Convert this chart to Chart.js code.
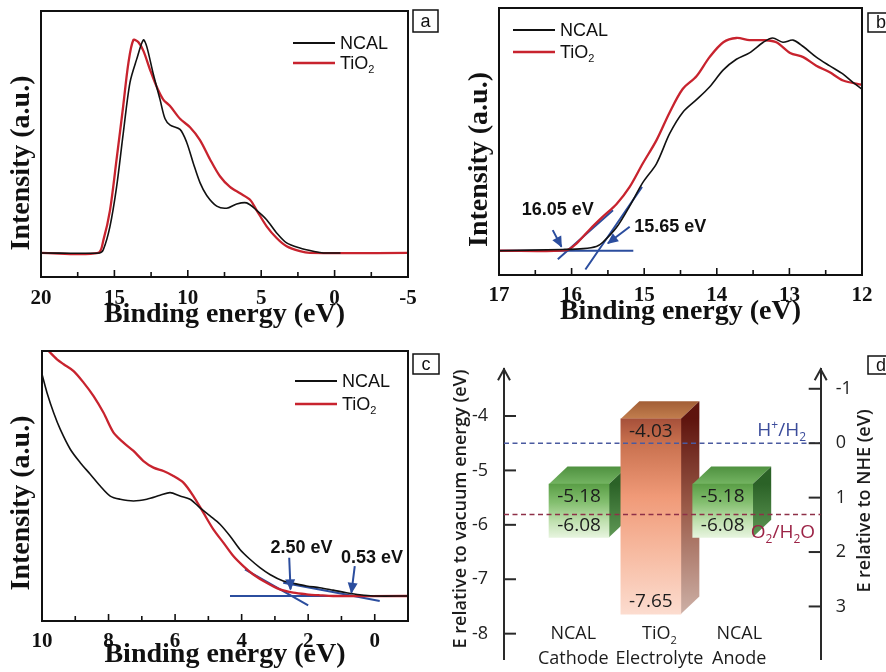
<!DOCTYPE html>
<html>
<head>
<meta charset="utf-8">
<title>UPS spectra and band alignment</title>
<script src="https://cdn.jsdelivr.net/npm/chart.js@4.4.1/dist/chart.umd.min.js"></script>
<style>
  body { margin: 0; background: #fff; }
  #fig { position: relative; width: 886px; height: 672px; overflow: hidden; background: #fff; }
  #fig canvas { position: absolute; }
</style>
</head>
<body>
<div id="fig">
  <canvas id="panelA" width="443" height="336" style="left:0;top:0"></canvas>
  <canvas id="panelB" width="443" height="336" style="left:443px;top:0"></canvas>
  <canvas id="panelC" width="443" height="336" style="left:0;top:336px"></canvas>
  <canvas id="panelD" width="443" height="336" style="left:443px;top:336px"></canvas>
</div>
<script>
// ---- (a) full UPS spectra: binding energy (eV) / normalised intensity ----
const eA_ncal = [20, 16.0, 15.75, 15.3, 14.85, 14.4, 13.94, 13.48, 13.03, 12.8, 12.35, 11.89, 11.55, 11.2, 10.53, 10.08, 9.62, 9.17, 8.71, 8.03, 7.35, 6.67, 5.99, 5.31, 4.63, 3.95, 3.27, 2.36, 1.45, 0.77, -0.4];
const iA_ncal = [0, 0, 0.016, 0.125, 0.31, 0.56, 0.80, 0.91, 1.0, 0.97, 0.84, 0.72, 0.63, 0.60, 0.58, 0.52, 0.42, 0.33, 0.27, 0.22, 0.21, 0.23, 0.235, 0.20, 0.156, 0.094, 0.047, 0.023, 0.008, 0, 0];
const eA_tio2 = [20, 16.1, 15.75, 15.3, 14.85, 14.4, 14.05, 13.71, 13.37, 13.03, 12.57, 12.12, 11.67, 11.21, 10.53, 9.85, 9.17, 8.49, 7.81, 7.13, 6.44, 5.76, 5.31, 4.63, 3.95, 3.27, 2.36, 1.68, -5];
const iA_tio2 = [0, 0, 0.06, 0.20, 0.44, 0.69, 0.89, 1.0, 0.99, 0.95, 0.86, 0.78, 0.72, 0.69, 0.63, 0.59, 0.53, 0.44, 0.36, 0.31, 0.28, 0.25, 0.20, 0.125, 0.07, 0.031, 0.008, 0, 0];
const ticksA = [20, 15, 10, 5, 0, -5];

// ---- (b) secondary electron cut-off ----
const eB_ncal = [17, 16.12, 15.84, 15.66, 15.57, 15.38, 15.2, 15.02, 14.83, 14.65, 14.47, 14.28, 14.1, 13.91, 13.73, 13.55, 13.36, 13.23, 13.09, 12.95, 12.81, 12.63, 12.45, 12.26, 12.12, 12.0];
const iB_ncal = [0, 0.006, 0.01, 0.02, 0.04, 0.11, 0.21, 0.32, 0.41, 0.55, 0.65, 0.71, 0.77, 0.85, 0.90, 0.93, 0.98, 1.0, 0.98, 0.99, 0.96, 0.91, 0.87, 0.83, 0.79, 0.76];
const eB_tio2 = [17, 16.07, 15.93, 15.75, 15.57, 15.38, 15.2, 15.02, 14.83, 14.65, 14.47, 14.28, 14.1, 13.91, 13.73, 13.55, 13.36, 13.18, 12.99, 12.81, 12.63, 12.45, 12.26, 12.0];
const iB_tio2 = [0, 0.003, 0.035, 0.10, 0.16, 0.22, 0.30, 0.41, 0.52, 0.65, 0.76, 0.82, 0.91, 0.98, 1.0, 0.99, 0.99, 0.98, 0.93, 0.91, 0.87, 0.84, 0.80, 0.78];
const ticksB = [17, 16, 15, 14, 13, 12];
const fitsB = [[[17, 0], [15.15, 0]], [[16.19, -0.04], [15.43, 0.19]], [[15.81, -0.088], [15.03, 0.30]]];
const arrowsB = [[[16.26, 0.097], [16.14, 0.019]], [[15.2, 0.113], [15.5, 0.035]]];
const notesB = ['16.05 eV', '15.65 eV'];

// ---- (c) valence band edge ----
const eC_ncal = [10, 9.85, 9.65, 9.45, 9.15, 8.85, 8.55, 8.25, 7.95, 7.65, 7.25, 6.85, 6.45, 6.15, 5.85, 5.55, 5.25, 4.95, 4.65, 4.35, 4.05, 3.75, 3.45, 3.15, 2.75, 2.45, 2.05, 1.65, 1.25, 0.85, 0.45, 0.05, -1];
const iC_ncal = [0.905, 0.83, 0.748, 0.68, 0.599, 0.544, 0.497, 0.449, 0.408, 0.395, 0.388, 0.395, 0.411, 0.422, 0.408, 0.395, 0.36, 0.327, 0.293, 0.245, 0.19, 0.15, 0.116, 0.088, 0.061, 0.052, 0.041, 0.034, 0.024, 0.0136, 0.005, 0, 0];
const eC_tio2 = [10, 9.75, 9.55, 9.35, 9.05, 8.75, 8.45, 8.15, 7.85, 7.55, 7.25, 6.95, 6.65, 6.35, 6.05, 5.75, 5.45, 5.15, 4.85, 4.55, 4.25, 3.95, 3.65, 3.25, 2.85, 2.45, 2.05, 1.65, 1.25, -1];
const iC_tio2 = [1.03, 0.993, 0.966, 0.946, 0.918, 0.871, 0.816, 0.748, 0.667, 0.626, 0.592, 0.551, 0.524, 0.51, 0.49, 0.463, 0.408, 0.34, 0.272, 0.218, 0.163, 0.122, 0.088, 0.054, 0.027, 0.0136, 0.007, 0.003, 0, 0];
const ticksC = [10, 8, 6, 4, 2, 0];
const fitsC = [[[4.35, 0], [-1, 0]], [[3.9, 0.109], [2.0, -0.038]], [[2.75, 0.054], [-0.15, -0.02]]];
const arrowsC = [[[2.57, 0.156], [2.53, 0.027]], [[0.6, 0.122], [0.7, 0.0136]]];
const notesC = ['2.50 eV', '0.53 eV'];

// ---- (d) band alignment (eV vs vacuum) ----
const bandNames = ['NCAL', 'TiO₂', 'NCAL'];
const bandRoles = ['Cathode', 'Electrolyte', 'Anode'];
const bandTop = [-5.25, -4.05, -5.25];
const bandBottom = [-6.23, -7.64, -6.23];
const bandTopText = ['-5.18', '-4.03', '-5.18'];
const bandBottomText = ['-6.08', '-7.65', '-6.08'];
const vacuumTicks = [-8, -7, -6, -5, -4];
const nheTicks = [-1, 0, 1, 2, 3];
const redoxLevels = [-4.5, -5.81];
const redoxNames = ['H⁺/H₂', 'O₂/H₂O'];

// layout / style constants
const SERIF = '"Liberation Serif", "Times New Roman", serif';
const SANS = '"Liberation Sans", Arial, sans-serif';
const OPEN = '"Open Sans", "Noto Sans", sans-serif';
const BLACK = '#111111';
const RED = '#c8232e';
const BLUE = '#2b4d9e';
const AXIS = '#2a2a2a';
const noteAtB = [[16.19, 0.19], [14.64, 0.113]];
const noteAtC = [[2.2, 0.197], [0.08, 0.156]];
const VAC_RANGE = [-8.471, -3.142];
const NHE_ZERO = -4.5;
const D_X = [-0.044, 4.364];
const catLabelAt = [0.92, 2.12, 3.23];
const redoxLabelAt = [[4.16, 0.225], [4.285, -0.34]];
const DEPTH = [18.5, -17.5];

Chart.defaults.animation = false;
Chart.defaults.events = [];
Chart.defaults.plugins.legend.display = false;
Chart.defaults.plugins.tooltip.enabled = false;

const pts = (xs, ys) => xs.map((x, i) => ({x, y: ys[i]}));
const seg = p => p.map(([x, y]) => ({x, y}));

// split text into normal / subscript / superscript runs
function richParts(text) {
  const parts = [];
  for (const ch of text) {
    let kind = 'n', c = ch;
    const sub = '₀₁₂₃₄₅₆₇₈₉'.indexOf(ch);
    if (sub >= 0) { kind = 'sub'; c = String(sub); }
    else if (ch === '⁺') { kind = 'sup'; c = '+'; }
    const last = parts[parts.length - 1];
    if (last && last.kind === kind) last.t += c; else parts.push({kind, t: c});
  }
  return parts;
}
function drawRich(ctx, text, x, y, size, weight, family, align) {
  const parts = richParts(text);
  const fontFor = k => `${weight} ${k === 'n' ? size : Math.round(size * 0.62)}px ${family}`;
  let w = 0;
  parts.forEach(p => { ctx.font = fontFor(p.kind); p.w = ctx.measureText(p.t).width; w += p.w; });
  let cx = align === 'center' ? x - w / 2 : align === 'right' ? x - w : x;
  ctx.textAlign = 'left';
  ctx.textBaseline = 'middle';
  parts.forEach(p => {
    ctx.font = fontFor(p.kind);
    const dy = p.kind === 'sub' ? size * 0.34 : p.kind === 'sup' ? -size * 0.3 : 0;
    ctx.fillText(p.t, cx, y + dy);
    cx += p.w;
  });
}
function drawTag(ctx, text, [x, y, w, h]) {
  ctx.save();
  ctx.strokeStyle = BLACK; ctx.lineWidth = 1.5;
  ctx.strokeRect(x, y, w, h);
  ctx.fillStyle = BLACK;
  ctx.font = `18px ${SANS}`; ctx.textAlign = 'center'; ctx.textBaseline = 'middle';
  ctx.fillText(text, x + w / 2, y + h / 2 + 1);
  ctx.restore();
}
function drawArrowHeads(chart) {
  const ctx = chart.ctx;
  chart.data.datasets.forEach((ds, i) => {
    if (!ds.arrowHead) return;
    const p = chart.getDatasetMeta(i).data;
    const a = p[p.length - 2], b = p[p.length - 1];
    const ang = Math.atan2(b.y - a.y, b.x - a.x);
    ctx.save();
    ctx.translate(b.x, b.y); ctx.rotate(ang);
    ctx.fillStyle = ds.borderColor;
    ctx.beginPath(); ctx.moveTo(1, 0); ctx.lineTo(-10, -5); ctx.lineTo(-10, 5); ctx.closePath(); ctx.fill();
    ctx.restore();
  });
}

// frame, inward ticks, legend, labels for the spectrum panels
const specFrame = {
  id: 'specFrame',
  afterDatasetsDraw(chart) { drawArrowHeads(chart); },
  afterDraw(chart, args, o) {
    const {ctx, chartArea: a, scales: {x, y}} = chart;
    ctx.save();
    ctx.strokeStyle = BLACK; ctx.lineWidth = 2;
    ctx.strokeRect(a.left, a.top, a.right - a.left, a.bottom - a.top);
    ctx.lineWidth = 1.6;
    const n0 = Math.ceil(x.min / o.minor - 1e-6), n1 = Math.floor(x.max / o.minor + 1e-6);
    for (let n = n0; n <= n1; n++) {
      const v = n * o.minor, px = x.getPixelForValue(v);
      const major = Math.abs(v / o.major - Math.round(v / o.major)) < 1e-6;
      ctx.beginPath(); ctx.moveTo(px, a.bottom); ctx.lineTo(px, a.bottom - (major ? 7 : 5)); ctx.stroke();
    }
    // y title
    ctx.save();
    ctx.translate(o.yTitleX, (a.top + a.bottom) / 2 + o.yTitleDy);
    ctx.rotate(-Math.PI / 2);
    ctx.fillStyle = BLACK;
    ctx.font = `bold 28px ${SERIF}`; ctx.textAlign = 'center'; ctx.textBaseline = 'middle';
    ctx.fillText('Intensity (a.u.)', 0, 0);
    ctx.restore();
    // legend
    const [lx, ly, lgap] = o.legend;
    chart.data.datasets.slice(0, 2).forEach((ds, i) => {
      const yy = ly + i * lgap;
      ctx.strokeStyle = ds.borderColor; ctx.lineWidth = ds.borderWidth + 0.4;
      ctx.beginPath(); ctx.moveTo(lx, yy); ctx.lineTo(lx + 42, yy); ctx.stroke();
      ctx.fillStyle = BLACK;
      drawRich(ctx, ds.label, lx + 47, yy + 1, 18, 'normal', SANS, 'left');
    });
    // onset annotations
    (o.notes || []).forEach((t, i) => {
      const [nx, ny] = o.noteAt[i];
      ctx.fillStyle = BLACK;
      ctx.font = `bold 18px ${SANS}`; ctx.textAlign = 'center'; ctx.textBaseline = 'middle';
      ctx.fillText(t, x.getPixelForValue(nx), y.getPixelForValue(ny));
    });
    drawTag(ctx, o.tag, o.tagBox);
    ctx.restore();
  }
};

function spectrumChart(id, o) {
  const datasets = [
    {label: 'NCAL', data: pts(o.ncal[0], o.ncal[1]), borderColor: BLACK, borderWidth: 1.6},
    {label: 'TiO₂', data: pts(o.tio2[0], o.tio2[1]), borderColor: RED, borderWidth: 2.3}
  ];
  (o.fits || []).forEach(f => datasets.push({data: seg(f), borderColor: BLUE, borderWidth: 2}));
  (o.arrows || []).forEach(f => datasets.push({data: seg(f), borderColor: BLUE, borderWidth: 2, arrowHead: true}));
  const [left, right, top, bottom] = o.area;
  return new Chart(document.getElementById(id), {
    type: 'line',
    data: {datasets},
    options: {
      responsive: false,
      layout: {autoPadding: false, padding: {left, right: 443 - right, top, bottom: 0}},
      elements: {point: {radius: 0}, line: {tension: 0.3, fill: false}},
      scales: {
        x: {
          type: 'linear', reverse: true, min: o.xRange[0], max: o.xRange[1],
          afterFit: s => { s.height = 336 - bottom; s.paddingLeft = s.paddingRight = 0; },
          afterBuildTicks: s => { s.ticks = o.ticks.map(v => ({value: v})); },
          grid: {display: false}, border: {display: false},
          ticks: {padding: o.tickPad, color: BLACK, maxRotation: 0, font: {family: SERIF, size: 21, weight: 'bold'}},
          title: {display: true, text: 'Binding energy (eV)', color: BLACK,
                  padding: {top: 0, bottom: o.titlePad}, font: {family: SERIF, size: 28, weight: 'bold'}}
        },
        y: {display: false, min: o.yRange[0], max: o.yRange[1]}
      },
      plugins: {
        specFrame: {
          major: o.major, minor: o.minor, yTitleX: o.yTitleX, yTitleDy: o.yTitleDy,
          legend: o.legend, notes: o.notes, noteAt: o.noteAt, tag: o.tag, tagBox: o.tagBox
        }
      }
    },
    plugins: [specFrame]
  });
}

spectrumChart('panelA', {
  ncal: [eA_ncal, iA_ncal], tio2: [eA_tio2, iA_tio2], ticks: ticksA,
  area: [41, 408, 11, 277], xRange: [-5, 20], yRange: [-0.113, 1.136],
  major: 5, minor: 2.5, tickPad: 1, titlePad: 4, yTitleX: 22, yTitleDy: 19,
  legend: [293, 43, 20], tag: 'a', tagBox: [413, 10, 25, 22]
});
spectrumChart('panelB', {
  ncal: [eB_ncal, iB_ncal], tio2: [eB_tio2, iB_tio2], ticks: ticksB,
  fits: fitsB, arrows: arrowsB, notes: notesB, noteAt: noteAtB,
  area: [56, 419, 8, 275], xRange: [12, 17], yRange: [-0.114, 1.141],
  major: 1, minor: 0.5, tickPad: 0, titlePad: 7, yTitleX: 37, yTitleDy: 18,
  legend: [70, 30, 22], tag: 'b', tagBox: [425, 13, 26, 19]
});
spectrumChart('panelC', {
  ncal: [eC_ncal, iC_ncal], tio2: [eC_tio2, iC_tio2], ticks: ticksC,
  fits: fitsC, arrows: arrowsC, notes: notesC, noteAt: noteAtC,
  area: [42, 408, 15, 285], xRange: [-1, 10], yRange: [-0.102, 1.0],
  major: 2, minor: 1, tickPad: 0, titlePad: 0, yTitleX: 22, yTitleDy: 17,
  legend: [295, 45, 23], tag: 'c', tagBox: [413, 18, 26, 20]
});

// ---- panel d: 3D-looking floating bars ----
const ncalFront = [[0, '#5a9e46'], [0.35, '#84bf70'], [0.7, '#c0e0af'], [1, '#e6f4de']];
const tioFront = [[0, '#a6503a'], [0.12, '#c8704e'], [0.4, '#f09a78'], [0.7, '#f7bca3'], [1, '#fcdccf']];
const ncalFaces = {topBack: '#4f9140', topFront: '#74b462', side: [[0, '#2b6227'], [1, '#5f9855']]};
const tioFaces = {topBack: '#a25e36', topFront: '#c27e4e', side: [[0, '#5e140e'], [0.45, '#9a5a48'], [1, '#cdb0a6']]};

function frontFill(c) {
  const chart = c.chart, y = chart.scales.y;
  if (c.type !== 'data' || !y) return '#8bc070';
  const i = c.dataIndex;
  const t = y.getPixelForValue(bandTop[i]), b = y.getPixelForValue(bandBottom[i]);
  if (!isFinite(t) || !isFinite(b)) return '#8bc070';
  const g = chart.ctx.createLinearGradient(0, t, 0, b);
  (i === 1 ? tioFront : ncalFront).forEach(([p, col]) => g.addColorStop(p, col));
  return g;
}

const band3d = {
  id: 'band3d',
  beforeDatasetsDraw(chart) {
    const ctx = chart.ctx;
    const bi = chart.data.datasets.findIndex(d => d.type === 'bar');
    const [dx, dy] = DEPTH;
    chart.getDatasetMeta(bi).data.forEach((bar, i) => {
      const {x, y, base, width} = bar.getProps(['x', 'y', 'base', 'width'], true);
      const l = x - width / 2, r = x + width / 2;
      const top = Math.min(y, base), bot = Math.max(y, base);
      const pal = i === 1 ? tioFaces : ncalFaces;
      let g = ctx.createLinearGradient(0, top + dy, 0, top);
      g.addColorStop(0, pal.topBack); g.addColorStop(1, pal.topFront);
      ctx.fillStyle = g;
      ctx.beginPath(); ctx.moveTo(l, top); ctx.lineTo(l + dx, top + dy); ctx.lineTo(r + dx, top + dy); ctx.lineTo(r, top);
      ctx.closePath(); ctx.fill();
      g = ctx.createLinearGradient(0, top, 0, bot);
      pal.side.forEach(([p, col]) => g.addColorStop(p, col));
      ctx.fillStyle = g;
      ctx.beginPath(); ctx.moveTo(r, top); ctx.lineTo(r + dx, top + dy); ctx.lineTo(r + dx, bot + dy); ctx.lineTo(r, bot);
      ctx.closePath(); ctx.fill();
    });
  },
  afterDatasetsDraw(chart) {
    const {ctx, chartArea: a, scales: {x, y, y2}} = chart;
    const bi = chart.data.datasets.findIndex(d => d.type === 'bar');
    ctx.save();
    // band edge values
    ctx.fillStyle = '#1c1c1c';
    ctx.font = `19px ${OPEN}`; ctx.textAlign = 'center'; ctx.textBaseline = 'middle';
    chart.getDatasetMeta(bi).data.forEach((bar, i) => {
      const {x: bx, y: by, base} = bar.getProps(['x', 'y', 'base'], true);
      ctx.fillText(bandTopText[i], bx, Math.min(by, base) + 13);
      ctx.fillText(bandBottomText[i], bx, Math.max(by, base) - 12);
    });
    // redox couple labels
    const redoxColors = ['#3b4c9b', '#9c2346'];
    redoxNames.forEach((t, i) => {
      ctx.fillStyle = redoxColors[i];
      drawRich(ctx, t, x.getPixelForValue(redoxLabelAt[i][0]), y.getPixelForValue(redoxLevels[i] + redoxLabelAt[i][1]), 19, 'normal', OPEN, 'right');
    });
    // axis arrows and inward ticks
    ctx.strokeStyle = AXIS; ctx.lineWidth = 2;
    [a.left, a.right].forEach(ax => {
      ctx.beginPath(); ctx.moveTo(ax - 6, a.top + 11); ctx.lineTo(ax, a.top); ctx.lineTo(ax + 6, a.top + 11); ctx.stroke();
    });
    vacuumTicks.forEach(v => {
      const py = y.getPixelForValue(v);
      ctx.beginPath(); ctx.moveTo(a.left, py); ctx.lineTo(a.left + 12, py); ctx.stroke();
    });
    nheTicks.forEach(v => {
      const py = y2.getPixelForValue(v);
      ctx.beginPath(); ctx.moveTo(a.right - 12, py); ctx.lineTo(a.right, py); ctx.stroke();
    });
    // category labels
    ctx.fillStyle = '#1c1c1c';
    bandNames.forEach((t, i) => {
      const px = x.getPixelForValue(catLabelAt[i]);
      drawRich(ctx, t, px, a.bottom - 25, 18, 'normal', OPEN, 'center');
      drawRich(ctx, bandRoles[i], px, a.bottom, 18, 'normal', OPEN, 'center');
    });
    // axis titles
    const titles = [['E relative to vacuum energy (eV)', 18, 173], ['E relative to NHE (eV)', 421.7, 165]];
    titles.forEach(([t, tx, ty]) => {
      ctx.save();
      ctx.translate(tx, ty); ctx.rotate(-Math.PI / 2);
      ctx.fillStyle = '#1c1c1c';
      ctx.font = `600 18px ${OPEN}`; ctx.textAlign = 'center'; ctx.textBaseline = 'middle';
      ctx.fillText(t, 0, 0);
      ctx.restore();
    });
    drawTag(ctx, 'd', [425, 20, 26, 18]);
    ctx.restore();
  }
};

new Chart(document.getElementById('panelD'), {
  type: 'bar',
  data: {
    datasets: [
      {type: 'line', data: [{x: D_X[0], y: redoxLevels[0]}, {x: D_X[1], y: redoxLevels[0]}],
       borderColor: '#4a5aa0', borderWidth: 1.6, borderDash: [5, 3.5], pointRadius: 0, order: 1},
      {type: 'line', data: [{x: D_X[0], y: redoxLevels[1]}, {x: D_X[1], y: redoxLevels[1]}],
       borderColor: '#8e3048', borderWidth: 1.6, borderDash: [5, 3.5], pointRadius: 0, order: 1},
      {type: 'bar', data: bandTop.map((t, i) => ({x: i + 1, y: [bandBottom[i], t]})),
       backgroundColor: frontFill, borderWidth: 0, barThickness: 60, order: 2}
    ]
  },
  options: {
    responsive: false,
    layout: {autoPadding: false, padding: {left: 0, right: 0, top: 33.3, bottom: 12.7}},
    scales: {
      x: {
        type: 'linear', display: false, offset: false, min: D_X[0], max: D_X[1],
        ticks: {display: false},
        afterFit: s => { s.height = 0; s.paddingLeft = s.paddingRight = 0; }
      },
      y: {
        position: 'left', min: VAC_RANGE[0], max: VAC_RANGE[1],
        afterFit: s => { s.width = 61; s.paddingTop = s.paddingBottom = 0; },
        afterBuildTicks: s => { s.ticks = vacuumTicks.map(v => ({value: v})); },
        grid: {display: false}, border: {display: true, color: AXIS, width: 2},
        ticks: {padding: 8, color: '#222', font: {family: OPEN, size: 18}}
      },
      y2: {
        position: 'right', reverse: true, min: NHE_ZERO - VAC_RANGE[1], max: NHE_ZERO - VAC_RANGE[0],
        afterFit: s => { s.width = 65.3; s.paddingTop = s.paddingBottom = 0; },
        afterBuildTicks: s => { s.ticks = nheTicks.map(v => ({value: v})); },
        grid: {display: false}, border: {display: true, color: AXIS, width: 2},
        ticks: {padding: 7, color: '#222', font: {family: OPEN, size: 18}}
      }
    }
  },
  plugins: [band3d]
});
</script>
</body>
</html>
